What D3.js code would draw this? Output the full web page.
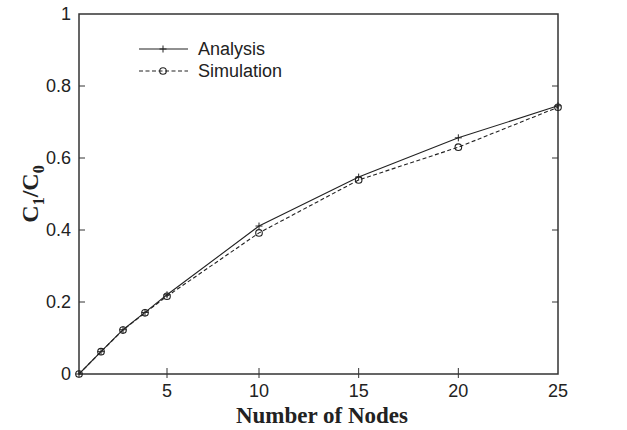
<!DOCTYPE html>
<html><head><meta charset="utf-8">
<script src="https://cdn.jsdelivr.net/npm/d3@7"></script>
<style>body{margin:0;background:#fff}svg{display:block}</style>
</head><body>
<svg id="c" width="627" height="430"></svg>
<script>
const nodes = [1, 2, 3, 4, 5, 10, 15, 20, 25];
const analysis = [0, 0.062, 0.123, 0.171, 0.220, 0.411, 0.547, 0.656, 0.745];
const simulation = [0, 0.062, 0.122, 0.170, 0.216, 0.392, 0.539, 0.630, 0.741];
const xTicks = [5, 10, 15, 20, 25];
const yTicks = [0, 0.2, 0.4, 0.6, 0.8, 1];
const seriesNames = ["Analysis", "Simulation"];

const svg = d3.select("#c");
const L = 79, R = 558, T = 14, B = 374;
// the original figure's x axis is not uniformly spaced below 10
const x = d3.scaleLinear().domain([1, 5, 10, 25]).range([L, 167, 259, R]);
const y = d3.scaleLinear().domain([0, 1]).range([B, T]);
const col = "#222";
const sans = "Liberation Sans, Arial, sans-serif";
const serif = "Liberation Serif, Times New Roman, serif";

svg.append("rect").attr("x", L).attr("y", T).attr("width", R - L).attr("height", B - T)
  .attr("fill", "none").attr("stroke", "#333").attr("stroke-width", 1.5);

const ax = svg.append("g");
yTicks.forEach(v => {
  if (v > 0 && v < 1) {
    ax.append("line").attr("x1", L).attr("x2", L + 6).attr("y1", y(v)).attr("y2", y(v)).attr("stroke", "#333");
    ax.append("line").attr("x1", R).attr("x2", R - 6).attr("y1", y(v)).attr("y2", y(v)).attr("stroke", "#333");
  }
  ax.append("text").attr("x", L - 8).attr("y", y(v)).attr("dy", "0.35em").attr("text-anchor", "end")
    .attr("font-family", sans).attr("font-size", 18).attr("fill", "#222")
    .text(d3.format("~g")(v));
});
xTicks.forEach(v => {
  if (v < 25) ax.append("line").attr("x1", x(v)).attr("x2", x(v)).attr("y1", B - 6).attr("y2", B + 4).attr("stroke", "#333");
  ax.append("text").attr("x", x(v)).attr("y", B + 23).attr("text-anchor", "middle")
    .attr("font-family", sans).attr("font-size", 18).attr("fill", "#222")
    .text(v);
});

svg.append("text").attr("x", 322).attr("y", 423).attr("text-anchor", "middle")
  .attr("font-family", serif).attr("font-weight", "bold")
  .attr("font-size", 23).attr("fill", "#222").text("Number of Nodes");
const yt = svg.append("text").attr("transform", `translate(38,${(T + B) / 2}) rotate(-90)`)
  .attr("text-anchor", "middle")
  .attr("font-family", serif).attr("font-weight", "bold")
  .attr("font-size", 24).attr("fill", "#222");
yt.append("tspan").text("C");
yt.append("tspan").attr("font-size", 16).attr("dy", 6).text("1");
yt.append("tspan").attr("dy", -6).text("/C");
yt.append("tspan").attr("font-size", 16).attr("dy", 6).text("0");

const line = d3.line().x((d, i) => x(nodes[i])).y(d => y(d));
svg.append("path").datum(analysis).attr("d", line).attr("fill", "none").attr("stroke", col).attr("stroke-width", 1.1);
svg.append("path").datum(simulation).attr("d", line).attr("fill", "none").attr("stroke", col)
  .attr("stroke-width", 1.1).attr("stroke-dasharray", "4,2.5");

function plus(g, cx, cy) {
  g.append("path").attr("d", `M${cx - 3.5},${cy}H${cx + 3.5}M${cx},${cy - 3.5}V${cy + 3.5}`).attr("stroke", col).attr("stroke-width", 1);
}
function circ(g, cx, cy) {
  g.append("circle").attr("cx", cx).attr("cy", cy).attr("r", 3.3).attr("fill", "none").attr("stroke", col).attr("stroke-width", 1.1);
}
const mk = svg.append("g");
analysis.forEach((v, i) => plus(mk, x(nodes[i]), y(v)));
simulation.forEach((v, i) => circ(mk, x(nodes[i]), y(v)));

const lg = svg.append("g");
const ly = [49, 71];
lg.append("line").attr("x1", 139).attr("x2", 188).attr("y1", ly[0]).attr("y2", ly[0]).attr("stroke", col).attr("stroke-width", 1.1);
plus(lg, 163, ly[0]);
lg.append("line").attr("x1", 139).attr("x2", 188).attr("y1", ly[1]).attr("y2", ly[1]).attr("stroke", col).attr("stroke-width", 1.1).attr("stroke-dasharray", "4,2.5");
circ(lg, 163, ly[1]);
seriesNames.forEach((n, i) => {
  lg.append("text").attr("x", 198).attr("y", ly[i]).attr("dy", "0.35em")
    .attr("font-family", sans).attr("font-size", 18).attr("fill", "#222").text(n);
});
</script>
</body></html>
